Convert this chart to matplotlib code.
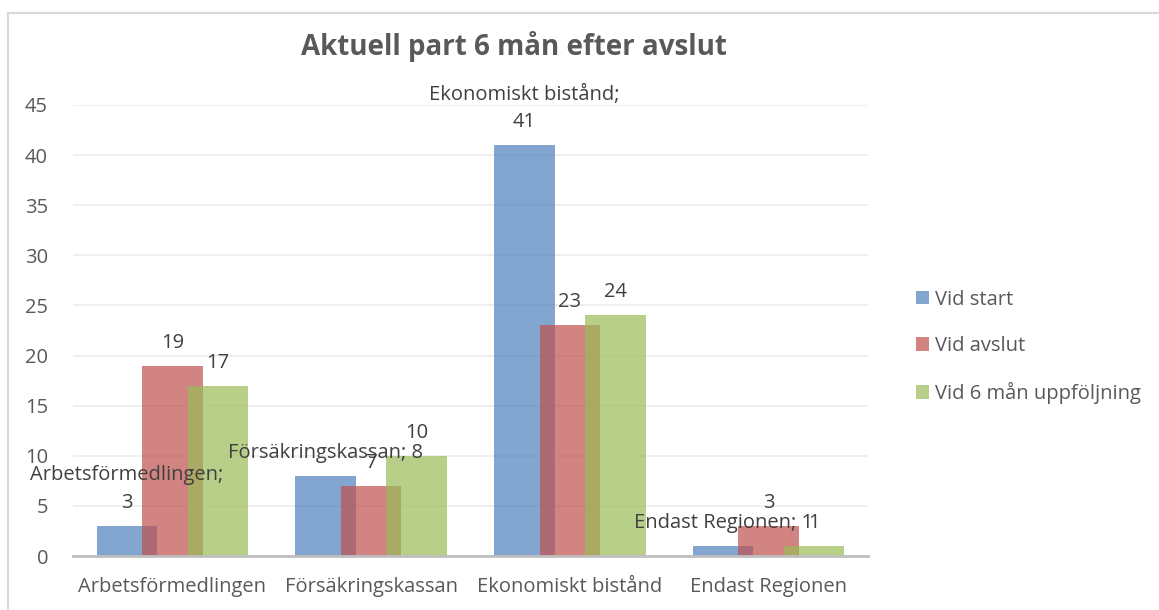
import matplotlib.pyplot as plt
from matplotlib.patches import Rectangle
import numpy as np

categories = ["Arbetsförmedlingen", "Försäkringskassan", "Ekonomiskt bistånd", "Endast Regionen"]
series_names = ["Vid start", "Vid avslut", "Vid 6 mån uppföljning"]
vid_start = [3, 8, 41, 1]
vid_avslut = [19, 7, 23, 3]
vid_6man = [17, 10, 24, 1]
# Excel wrapped the category name onto its own line for these blue labels
wrap_label = [True, False, True, False]
title = "Aktuell part 6 mån efter avslut"

plt.rcParams['font.family'] = ['Open Sans', 'DejaVu Sans']
grey = '#595959'
label_col = '#404040'
fs = 14.5

fig = plt.figure(figsize=(11.59, 6.10), dpi=100)
ax = fig.add_axes([73/1159, 1-556/610, (868-73)/1159, (556-105)/610])

# outer chart frame
fig.patches.append(Rectangle((8/1159, -0.05), 1.2, 1-13/610+0.05, transform=fig.transFigure,
                             fill=False, edgecolor='#d9d9d9', linewidth=1.5))

x = np.arange(len(categories))
width = 0.305
step = 0.229
colors = ['#4F81BD', '#C0504D', '#9BBB59']
data = [vid_start, vid_avslut, vid_6man]

bars_all = []
for i, (vals, col, name) in enumerate(zip(data, colors, series_names)):
    bars = ax.bar(x + (i-1)*step, vals, width, color=col, alpha=0.7, label=name, zorder=2)
    bars_all.append(bars)

# data labels
for i, bars in enumerate(bars_all):
    for j, b in enumerate(bars):
        v = data[i][j]
        if i == 0:
            if wrap_label[j]:
                txt = categories[j] + ";\n" + str(v)
            else:
                txt = categories[j] + "; " + str(v)
        else:
            txt = str(v)
        ax.annotate(txt, (b.get_x() + b.get_width()/2, v), xytext=(0, 13),
                    textcoords='offset pixels', ha='center', va='bottom',
                    fontsize=fs, color=label_col, linespacing=1.5, zorder=5)

ax.set_xlim(-0.5, 3.5)
ax.set_ylim(0, 45)
ax.set_yticks(range(0, 50, 5))
ax.set_xticks(x)
ax.set_xticklabels(categories)
ax.tick_params(axis='both', length=0, labelsize=fs, labelcolor=grey)
ax.tick_params(axis='y', pad=18)
ax.tick_params(axis='x', pad=15)
ax.yaxis.grid(True, color='#ececec', linewidth=1.2, zorder=0)
ax.set_axisbelow(True)
for s in ['top', 'right', 'left']:
    ax.spines[s].set_visible(False)
ax.spines['bottom'].set_color('#bfbfbf')
ax.spines['bottom'].set_linewidth(2)

fig.text(514/1159, 1-46/610, title, ha='center', va='center', fontsize=20,
         fontweight='bold', color=grey)

ax.legend(loc='center left', bbox_to_anchor=(898/1159, 1-347/610), bbox_transform=fig.transFigure,
          frameon=False, fontsize=fs, labelcolor=grey, handlelength=0.65, handleheight=0.65,
          handletextpad=0.3, labelspacing=1.3)

fig.savefig("out.png", dpi=100)
